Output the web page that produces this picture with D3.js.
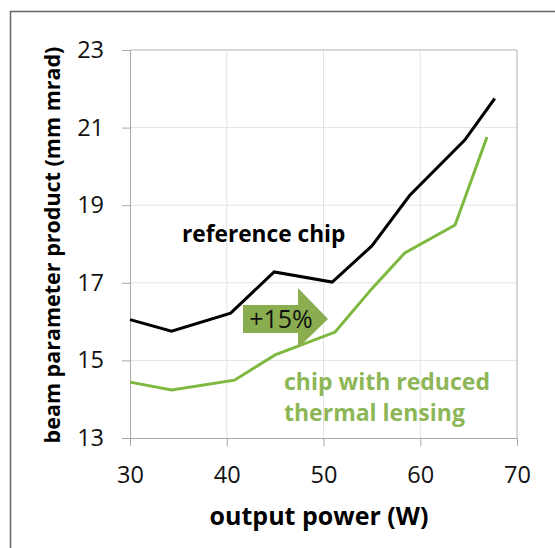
<!DOCTYPE html>
<html>
<head>
<meta charset="utf-8">
<script src="https://cdn.jsdelivr.net/npm/d3@7"></script>
<style>
  body { margin: 0; background: #fff; }
  text { font-family: "Open Sans", sans-serif; }
</style>
</head>
<body>
<div id="chart"></div>
<script>
var refPower = [30, 34.3, 40.4, 44.9, 50.9, 55.0, 58.9, 64.6, 67.7];
var refBpp   = [16.05, 15.75, 16.22, 17.28, 17.02, 17.95, 19.25, 20.68, 21.75];
var redPower = [30, 34.3, 40.8, 45.0, 51.2, 55.0, 58.4, 63.6, 66.9];
var redBpp   = [14.44, 14.24, 14.49, 15.14, 15.73, 16.85, 17.77, 18.49, 20.76];
var xTicks = [30, 40, 50, 60, 70];
var yTicks = [13, 15, 17, 19, 21, 23];

var width = 555, height = 548;
var svg = d3.select('#chart').append('svg')
    .attr('width', width).attr('height', height);

// outer frame (cut off at right and bottom)
svg.append('path')
    .attr('d', 'M10.5,' + height + 'V11.5H' + width)
    .attr('fill', 'none').attr('stroke', '#666').attr('stroke-width', 1.5);

var x = d3.scaleLinear().domain([30, 70]).range([130, 517]),
    y = d3.scaleLinear().domain([13, 23]).range([438, 50]);

// grid
svg.append('g').selectAll('line.h')
  .data(yTicks.slice(1, -1))
  .enter().append('line')
    .attr('x1', x(30)).attr('x2', x(70))
    .attr('y1', function(d) { return y(d); }).attr('y2', function(d) { return y(d); })
    .attr('stroke', '#e3e3e3').attr('stroke-width', 1);
svg.append('g').selectAll('line.v')
  .data(xTicks.slice(1, -1))
  .enter().append('line')
    .attr('y1', y(13)).attr('y2', y(23))
    .attr('x1', function(d) { return x(d); }).attr('x2', function(d) { return x(d); })
    .attr('stroke', '#e3e3e3').attr('stroke-width', 1);

// plot frame top / right
svg.append('path')
    .attr('d', 'M' + x(30) + ',' + y(23) + 'H' + x(70) + 'V' + y(13))
    .attr('fill', 'none').attr('stroke', '#b0b0b0').attr('stroke-width', 1);

var xAxis = svg.append('g')
    .attr('transform', 'translate(0,' + y(13) + ')')
    .call(d3.axisBottom(x).tickValues(xTicks).tickSize(8).tickPadding(20));
var yAxis = svg.append('g')
    .attr('transform', 'translate(' + x(30) + ',0)')
    .call(d3.axisLeft(y).tickValues(yTicks).tickSize(8).tickPadding(18));

[xAxis, yAxis].forEach(function(a) {
  a.select('.domain').attr('stroke', '#a8a8a8');
  a.selectAll('.tick line').attr('stroke', '#a8a8a8');
  a.selectAll('.tick text')
    .attr('fill', '#111')
    .style('font-family', '"Open Sans", sans-serif')
    .style('font-size', '23.5px');
});

var line = d3.line()
    .x(function(d) { return x(d[0]); })
    .y(function(d) { return y(d[1]); });

svg.append('path')
    .datum(redPower.map(function(p, i) { return [p, redBpp[i]]; }))
    .attr('d', line)
    .attr('fill', 'none').attr('stroke', '#7db83f').attr('stroke-width', 3);

svg.append('path')
    .datum(refPower.map(function(p, i) { return [p, refBpp[i]]; }))
    .attr('d', line)
    .attr('fill', 'none').attr('stroke', '#000').attr('stroke-width', 3);

// +15% arrow
svg.append('path')
    .attr('d', 'M243,305H298V288L328,319L298,348V333H243Z')
    .attr('fill', '#8aae4f');
svg.append('text')
    .attr('x', 281).attr('y', 328)
    .attr('text-anchor', 'middle')
    .style('font-size', '25px')
    .attr('fill', '#111')
    .text('+15%');

// labels
svg.append('text')
    .attr('x', 182).attr('y', 242)
    .style('font-size', '22.7px').style('font-weight', 'bold')
    .attr('fill', '#000')
    .text('reference chip');

svg.append('text')
    .attr('x', 284).attr('y', 390)
    .style('font-size', '23px').style('font-weight', 'bold')
    .attr('fill', '#8db656')
    .text('chip with reduced');
svg.append('text')
    .attr('x', 284).attr('y', 421)
    .style('font-size', '23px').style('font-weight', 'bold')
    .attr('fill', '#8db656')
    .text('thermal lensing');

// axis titles
svg.append('text')
    .attr('x', 319).attr('y', 525)
    .attr('text-anchor', 'middle')
    .style('font-size', '25px').style('font-weight', 'bold')
    .attr('fill', '#000')
    .text('output power (W)');

svg.append('text')
    .attr('transform', 'translate(60,245) rotate(-90)')
    .attr('text-anchor', 'middle')
    .style('font-size', '21.5px').style('font-weight', 'bold')
    .attr('fill', '#000')
    .text('beam parameter product (mm mrad)');
</script>
</body>
</html>
